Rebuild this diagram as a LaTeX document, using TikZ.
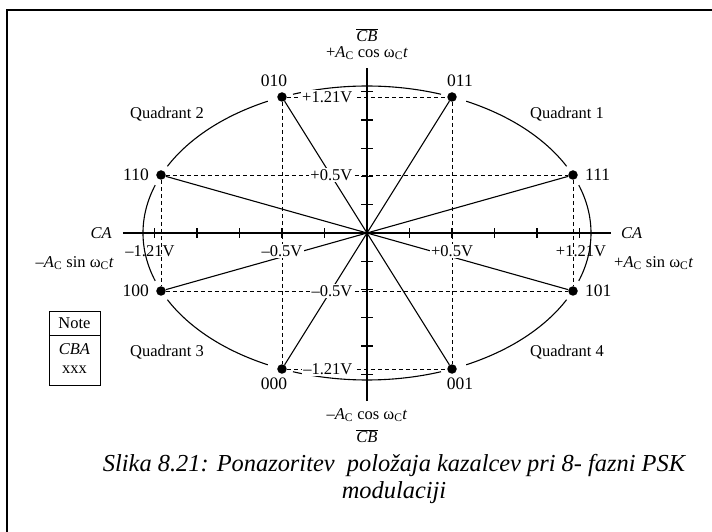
\documentclass[tikz,border=0pt]{standalone}
\usepackage{fontspec}
\setmainfont{Liberation Serif}
\usetikzlibrary{positioning, shapes.multipart}

\newcommand{\lblfont}{\fontsize{16.5}{18.5}\selectfont}
\newcommand{\codefont}{\fontsize{17.5}{19}\selectfont}
\newcommand{\capfont}{\fontsize{24.4}{27.5}\selectfont\itshape}
\newcommand{\Ac}{\textit{A}\textsubscript{C}}
\newcommand{\wct}{ω\textsubscript{C}\textit{t}}

\begin{document}
\begin{tikzpicture}[
    x=1pt, y=1pt,
    axis/.style={line width=1.4pt},
    vec/.style={line width=1.1pt},
    proj/.style={line width=0.9pt, dash pattern=on 4pt off 3pt},
    tickmark/.style={line width=1.1pt},
    dot/.style={circle, fill=black, inner sep=0pt, minimum size=9.5pt},
    code/.style={font=\codefont, inner sep=1pt},
    lbl/.style={font=\lblfont, inner sep=1pt},
    volt/.style={font=\lblfont, fill=white, inner sep=1.5pt},
    quad/.style={font=\lblfont}
]
\useasboundingbox (-367,-299) rectangle (345,233);

% frame (cut on the right and at the bottom)
\draw[line width=2.2pt] (-360,-299) -- (-360,223) -- (345,223);

% axes
\coordinate (O) at (0,0);
\coordinate (xl) at (-244,0);
\coordinate (xr) at (244,0);
\coordinate (yt) at (0,165);
\coordinate (yb) at (0,-168);
\draw[axis] (xl) -- (xr);
\draw[axis] (yb) -- (yt);
\foreach \k in {1,...,5} {
  \draw[tickmark] (\k*42.5,-5) -- (\k*42.5,5);
  \draw[tickmark] (-\k*42.5,-5) -- (-\k*42.5,5);
  \draw[tickmark] (-6,\k*28.25) -- (6,\k*28.25);
  \draw[tickmark] (-6,-\k*28.25) -- (6,-\k*28.25);
}

% circle of constant amplitude, broken at the points
\foreach \s/\e in {27/63.7, 70.7/109.3, 116.3/153, 161/199, 207/243.7, 250.7/289.3, 296.3/333, 341/379}
  \draw[vec] (\s:224pt and 147pt) arc[start angle=\s, end angle=\e, x radius=224pt, y radius=147pt];

% 8-PSK points
\node[dot] (p111) at (206,58) {};
\node[dot] (p011) at (85,136) {};
\node[dot] (p010) at (-85,136) {};
\node[dot] (p110) at (-206,58) {};
\node[dot] (p100) at (-206,-58) {};
\node[dot] (p000) at (-85,-136) {};
\node[dot] (p001) at (85,-136) {};
\node[dot] (p101) at (206,-58) {};

\foreach \p in {111,011,010,110,100,000,001,101}
  \draw[vec] (O) -- (p\p);

\draw[proj] (p110) -- (p111);
\draw[proj] (p100) -- (p101);
\draw[proj] (p010) -- (p011);
\draw[proj] (p000) -- (p001);
\draw[proj] (p010) -- (p000);
\draw[proj] (p011) -- (p001);
\draw[proj] (p110) -- (p100);
\draw[proj] (p111) -- (p101);

\node[code, above=4pt of p010, xshift=-8pt] (l010) {010};
\node[code, above=4pt of p011, xshift=8pt] (l011) {011};
\node[code, left=6pt of p110] (l110) {110};
\node[code, right=6pt of p111] (l111) {111};
\node[code, left=6pt of p100] (l100) {100};
\node[code, right=6pt of p101] (l101) {101};
\node[code, below=3pt of p000, xshift=-8pt] (l000) {000};
\node[code, below=3pt of p001, xshift=8pt] (l001) {001};

% voltages
\node[volt, anchor=east] (v121t) at (-13,136) {+1.21V};
\node[volt, anchor=east] (v05t) at (-13,58) {+0.5V};
\node[volt, anchor=east] (v05b) at (-13,-58) {–0.5V};
\node[volt, anchor=east] (v121b) at (-13,-136) {–1.21V};
\node[lbl] (h121l) at (-217,-18) {–1.21V};
\node[volt] (h05l) at (-85,-18) {–0.5V};
\node[volt] (h05r) at (85,-18) {+0.5V};
\node[lbl] (h121r) at (214,-18) {+1.21V};

% axis names
\node[lbl, anchor=east, font=\lblfont\itshape] (caL) at ([xshift=-10pt]xl) {CA};
\node[lbl, anchor=west, font=\lblfont\itshape] (caR) at ([xshift=9pt]xr) {CA};
\node[lbl, anchor=east] (sinL) at (-252,-30) {–\Ac{} sin \wct};
\node[lbl, anchor=west] (sinR) at (246,-30) {+\Ac{} sin \wct};
\node[lbl] (cosT) at (0,180) {+\Ac{} cos \wct};
\node[lbl] (cbT) at (0,198) {$\overline{\mbox{\itshape CB}}$};
\node[lbl] (cosB) at (0,-182) {–\Ac{} cos \wct};
\node[lbl] (cbB) at (0,-203) {$\overline{\mbox{\itshape CB}}$};

\node[quad] (q1) at (200,119) {Quadrant 1};
\node[quad] (q2) at (-200,119) {Quadrant 2};
\node[quad] (q3) at (-200,-119) {Quadrant 3};
\node[quad] (q4) at (200,-119) {Quadrant 4};

% legend
\node[draw, line width=0.9pt, rectangle split, rectangle split parts=2,
      font=\lblfont, minimum width=51pt, inner xsep=3pt, inner ysep=6pt]
      (note) at (-292.5,-115.5)
      {Note \nodepart{two}\begin{tabular}{@{}c@{}}\textit{CBA}\\xxx\end{tabular}};

% caption
\node[font=\capfont, align=center] (cap) at (27,-246)
  {Slika 8.21: Ponazoritev\ \ položaja kazalcev pri 8- fazni PSK\\modulaciji};
\end{tikzpicture}
\end{document}
